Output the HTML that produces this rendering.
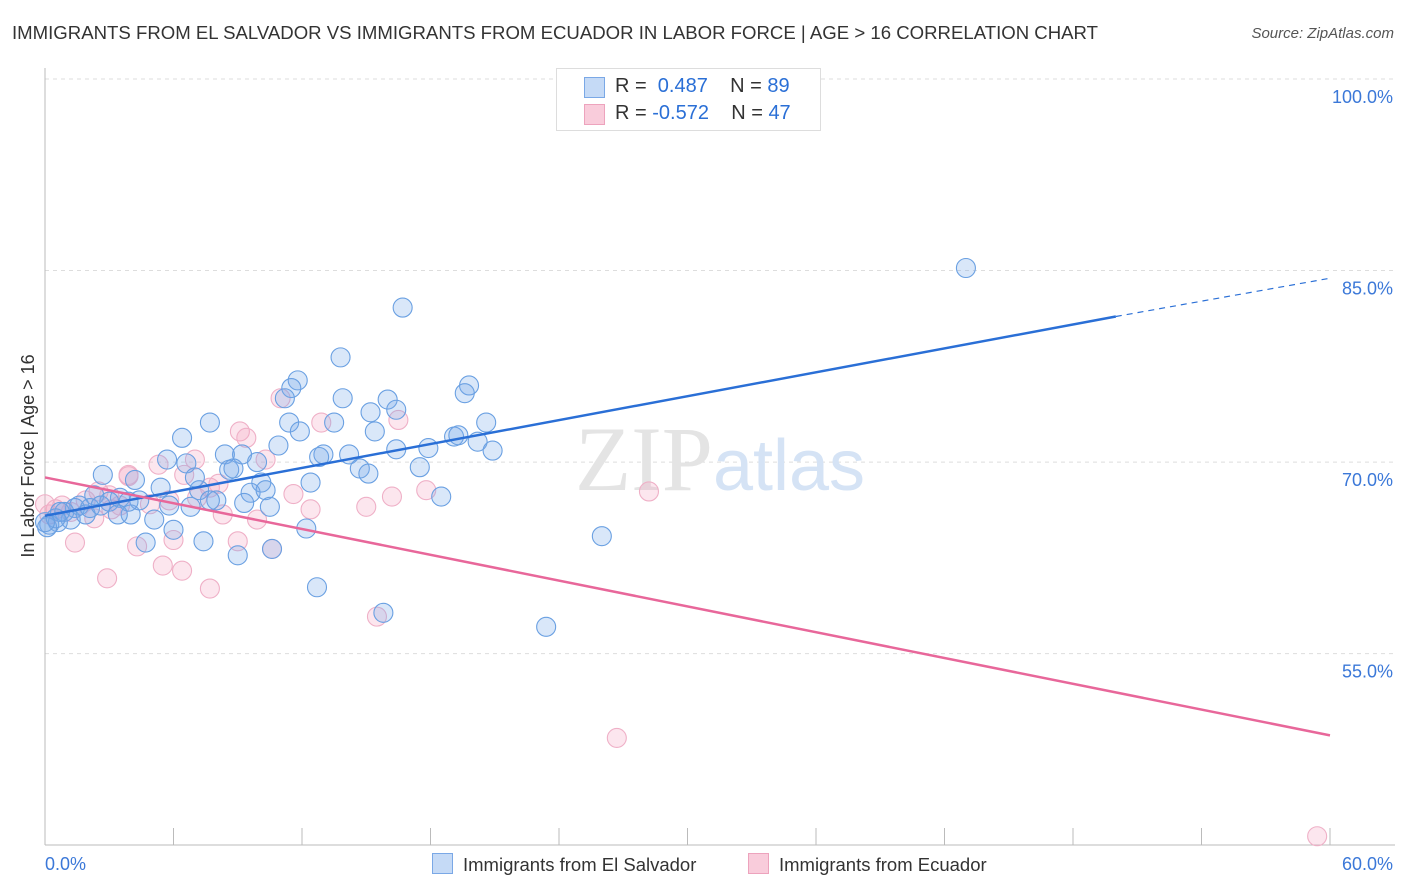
<!DOCTYPE html>
<html><head><meta charset="utf-8"><style>
body{margin:0;background:#fff;font-family:"Liberation Sans",sans-serif;}
#wrap{position:relative;width:1406px;height:892px;overflow:hidden;}
.t{position:absolute;white-space:nowrap;}
</style></head><body>
<div id="wrap">
<div class="t" style="left:12px;top:22px;font-size:18.6px;color:#333;">IMMIGRANTS FROM EL SALVADOR VS IMMIGRANTS FROM ECUADOR IN LABOR FORCE | AGE &gt; 16 CORRELATION CHART</div>
<div class="t" style="right:12px;top:25px;font-size:15px;color:#555;font-style:italic;">Source: ZipAtlas.com</div>
<svg id="plot" width="1406" height="892" style="position:absolute;left:0;top:0"></svg>
</div>
<script>
const yTicks=[55,70,85,100];
const xTicks=[0,6,12,18,24,30,36,42,48,54,60];
const blueX=[43.0,16.7,13.8,11.8,11.5,11.2,13.9,16.0,16.4,19.8,19.6,7.7,11.4,13.5,15.2,20.6,11.9,6.4,15.4,19.1,19.3,20.2,10.9,16.4,17.9,20.9,14.2,13.0,12.8,9.2,8.4,5.7,6.6,14.7,15.1,17.5,8.6,8.8,2.7,9.9,7.2,10.1,4.2,5.4,12.4,18.5,9.6,10.3,9.3,7.0,8.0,7.7,3.5,2.3,1.6,1.4,4.0,3.0,4.4,3.9,5.1,3.4,0.9,1.2,0.6,0.2,0.7,1.9,10.5,6.8,6.0,12.2,7.4,4.7,9.0,10.6,26.0,12.7,15.8,23.4,0.1,2.1,2.6,0.5,5.8,0.0];
const blueY=[85.2,82.1,78.2,76.4,75.8,75.0,75.0,74.9,74.1,76.0,75.4,73.1,73.1,73.1,73.9,73.1,72.4,71.9,72.4,72.0,72.1,71.6,71.3,71.0,71.1,70.9,70.6,70.6,70.4,70.6,70.6,70.2,69.9,69.5,69.1,69.6,69.4,69.5,69.0,70.0,67.8,68.4,68.6,68.0,68.4,67.3,67.6,67.8,66.8,68.8,67.0,67.0,67.2,67.4,66.6,66.4,65.9,66.9,67.0,66.9,65.5,65.9,66.1,65.5,65.3,65.1,66.1,65.9,66.5,66.5,64.7,64.8,63.8,63.7,62.7,63.2,64.2,60.2,58.2,57.1,64.9,66.4,66.6,65.6,66.6,65.3];
const pinkX=[28.2,26.7,59.4,11.0,12.9,16.5,9.1,9.4,5.3,6.5,7.0,3.9,3.9,7.7,8.1,10.3,11.6,12.4,15.0,16.2,17.8,2.5,3.1,4.9,8.3,9.9,9.0,6.0,4.3,1.4,2.9,5.5,6.4,7.7,10.6,15.5,0.5,0.8,0.2,1.9,5.8,7.1,2.3,0.0,3.5,3.0,1.2];
const pinkY=[67.7,48.4,40.7,75.0,73.1,73.3,72.4,71.9,69.8,69.0,70.2,69.0,68.9,68.0,68.3,70.2,67.5,66.3,66.5,67.3,67.8,67.7,66.3,66.7,65.9,65.5,63.8,63.9,63.4,63.7,60.9,61.9,61.5,60.1,63.2,57.9,66.3,66.6,65.9,67.0,67.0,67.2,65.6,66.7,66.6,67.4,66.1];
const blueLine=[0,65.8,50,81.4,60,84.4];
const pinkLine=[0,68.8,60,48.6];
const svg=document.getElementById('plot');
const NS='http://www.w3.org/2000/svg';
const X=v=>45+v*1285/60, Y=v=>79+(100-v)*12.77;
function mk(tag,attrs){const e=document.createElementNS(NS,tag);for(const k in attrs)e.setAttribute(k,attrs[k]);svg.appendChild(e);return e;}
yTicks.forEach(t=>{
 const g=mk('line',{x1:45,x2:1395,y1:Y(t),y2:Y(t),stroke:'#ddd','stroke-dasharray':'4,4'});
 
 
 const l=mk('text',{x:1393,y:Y(t)+24,'text-anchor':'end','font-size':18,fill:'#3b78d8','font-family':'Liberation Sans'});
 l.textContent=t.toFixed(1)+'%';
 
 
});
mk('line',{x1:45,x2:45,y1:68,y2:845,stroke:'#bbb'});
mk('line',{x1:45,x2:1395,y1:845,y2:845,stroke:'#bbb'});
xTicks.forEach(t=>{
 const k=mk('line',{x1:X(t),x2:X(t),y1:828,y2:845,stroke:'#bbb'});
 
 
});
const x0=mk('text',{x:45,y:870,'font-size':18,fill:'#3b78d8','font-family':'Liberation Sans'});x0.textContent='0.0%';


const x1=mk('text',{x:1393,y:870,'text-anchor':'end','font-size':18,fill:'#3b78d8','font-family':'Liberation Sans'});x1.textContent='60.0%';


const yt=mk('text',{x:34,y:456,'text-anchor':'middle','font-size':18,fill:'#333',transform:'rotate(-90 34 456)','font-family':'Liberation Sans'});yt.textContent='In Labor Force | Age > 16';


const wm=mk('text',{x:720,y:490,'text-anchor':'middle','font-size':92,fill:'#e4e4e4','font-family':'Liberation Serif'});
wm.innerHTML='ZIP<tspan fill="#d5e3f5" font-family="Liberation Sans" font-size="72">atlas</tspan>';


pinkX.forEach((v,i)=>{
 const c=mk('circle',{cx:X(v),cy:Y(pinkY[i]),r:9.5,fill:'rgba(243,165,195,0.28)',stroke:'#efb0c7','stroke-width':1.1});
 
 
});
blueX.forEach((v,i)=>{
 const c=mk('circle',{cx:X(v),cy:Y(blueY[i]),r:9.5,fill:'rgba(120,170,235,0.28)',stroke:'#6aa0e2','stroke-width':1.1});
 
 
});
const bl=mk('line',{x1:X(blueLine[0]),y1:Y(blueLine[1]),x2:X(blueLine[2]),y2:Y(blueLine[3]),stroke:'#2a6fd6','stroke-width':2.5});


const bd=mk('line',{x1:X(blueLine[2]),y1:Y(blueLine[3]),x2:X(blueLine[4]),y2:Y(blueLine[5]),stroke:'#2a6fd6','stroke-width':1.2,'stroke-dasharray':'6,5'});


const pl=mk('line',{x1:X(pinkLine[0]),y1:Y(pinkLine[1]),x2:X(pinkLine[2]),y2:Y(pinkLine[3]),stroke:'#e8679a','stroke-width':2.5});


</script>
<div class="t" style="left:556px;top:68px;width:263px;height:61px;border:1px solid #ddd;background:#fff;font-size:20px;color:#333;">
 <div style="position:absolute;left:27px;top:8px;width:19px;height:19px;background:#c5daf6;border:1px solid #7aa8e6;"></div>
 <div style="position:absolute;left:58px;top:6px;">R = &nbsp;<span style="color:#2a6fd6">0.487</span>&nbsp;&nbsp;&nbsp; N = <span style="color:#2a6fd6">89</span></div>
 <div style="position:absolute;left:27px;top:35px;width:19px;height:19px;background:#f9ccdb;border:1px solid #eda3bd;"></div>
 <div style="position:absolute;left:58px;top:33px;">R = <span style="color:#2a6fd6">-0.572</span>&nbsp;&nbsp;&nbsp; N = <span style="color:#2a6fd6">47</span></div>
</div>
<div class="t" style="left:432px;top:853px;font-size:18.5px;color:#333;"><span style="display:inline-block;width:19px;height:19px;background:#c5daf6;border:1px solid #7aa8e6;vertical-align:-3px;margin-right:10px;"></span>Immigrants from El Salvador</div>
<div class="t" style="left:748px;top:853px;font-size:18.5px;color:#333;"><span style="display:inline-block;width:19px;height:19px;background:#f9ccdb;border:1px solid #eda3bd;vertical-align:-3px;margin-right:10px;"></span>Immigrants from Ecuador</div>
</body></html>
